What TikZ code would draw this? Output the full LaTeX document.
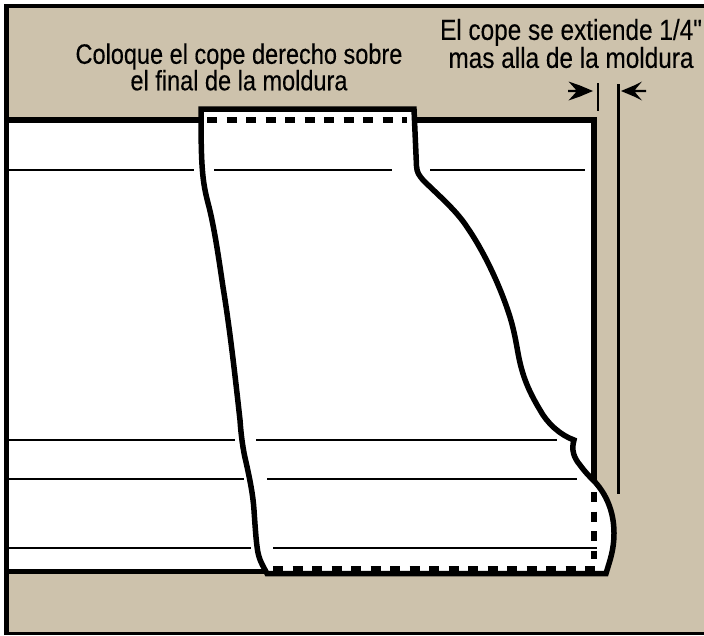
\documentclass[tikz,border=0pt]{standalone}
\usepackage{fontspec}
\setmainfont[FakeStretch=0.84,FakeBold=0.25,Ligatures=TeXOff]{Liberation Sans}
\definecolor{wallTan}{HTML}{CDC2AC}
\tikzset{
  heavyline/.style={draw=black,line width=5.5pt,line join=miter},
  thinline/.style={draw=black,line width=2.2pt},
  dashline/.style={draw=black,line width=5.5pt,dash pattern=on 10pt off 9.5pt},
  labeltext/.style={align=center,inner sep=0pt,text=black}
}
\begin{document}
\begin{tikzpicture}[x=1pt,y=-1pt]
\useasboundingbox (0,0) rectangle (704,635);
\fill[white] (0,0) rectangle (704,635);
\fill[black] (4,4) rectangle (704,635);
\fill[wallTan] (9,7.5) rectangle (704,632);
\fill[white] (9,120) rectangle (594,571);
\draw[heavyline] (6,120) -- (594,120) -- (594,485);
\draw[heavyline] (6,571.5) -- (270,571.5);
% thin molding lines left of the cope
\foreach \y/\a/\b in {170/9/194, 440/9/235, 479/9/244, 548/9/251}
  {\draw[thinline] (\a,\y) -- (\b,\y);}
% cope
\fill[white,draw=black,line width=5.5pt,line join=miter]
 (201,109) -- (414,109) -- (416.5,166)
 .. controls (417,173) and (419,175) .. (423,180)
 .. controls (438,195) and (456,210) .. (467,227)
 .. controls (483,250) and (500,285) .. (510,317)
 .. controls (514,330) and (516,342) .. (518,353)
 .. controls (522,375) and (528,390) .. (540,410)
 .. controls (547,423) and (560,435) .. (574,440)
 .. controls (571,450) and (574,458) .. (580,465)
 .. controls (585,472) and (590,477) .. (595,482)
 .. controls (605,493) and (614,510) .. (614,533)
 .. controls (614,550) and (610,560) .. (606,573.5)
 -- (267,573.5)
 .. controls (263,566) and (259,560) .. (257.5,550)
 .. controls (256,540) and (255,525) .. (254,510)
 .. controls (253,495) and (250,480) .. (246,462)
 .. controls (243,450) and (241,435) .. (240,420)
 .. controls (235,375) and (230,330) .. (223,287)
 .. controls (219,260) and (214,225) .. (208,203)
 .. controls (202,180) and (201,165) .. (201,109) -- cycle;
% thin molding lines inside the cope and to its right
\foreach \y/\a/\b in {170/214/392, 170/430/585, 440/256/557, 479/267/577, 548/273/597}
  {\draw[thinline] (\a,\y) -- (\b,\y);}
\draw[dashline] (207,120) -- (407,120);
\draw[dashline] (594,492) -- (594,559);
\draw[dashline] (273,569) -- (596,569);
% dimension
\coordinate (tickA) at (597.7,83);
\coordinate (tickB) at (597.7,111);
\coordinate (lineA) at (618.5,84);
\coordinate (lineB) at (618.5,494);
\draw[thinline] (tickA) -- (tickB);
\draw[thinline] (lineA) -- (lineB);
\fill[black] (593,91) -- (580,85.5) -- (568.5,81.5) -- (576,89.8) -- (568,89.8) -- (568,92.2) -- (576,92.2) -- (568.5,100.5) -- (580,96.5) -- cycle;
\fill[black] (621,91) -- (634,85.5) -- (642,81.5) -- (635,89.8) -- (646,89.8) -- (646,92.2) -- (635,92.2) -- (642,100.5) -- (634,96.5) -- cycle;
\node[labeltext,font=\fontsize{28}{26.5}\selectfont] (leftnote) at (239,67) {Coloque el cope derecho sobre\\el final de la moldura};
\node[labeltext,font=\fontsize{29}{27}\selectfont] (rightnote) at (571,43.5) {El cope se extiende 1/4"\\mas alla de la moldura};
\end{tikzpicture}
\end{document}
